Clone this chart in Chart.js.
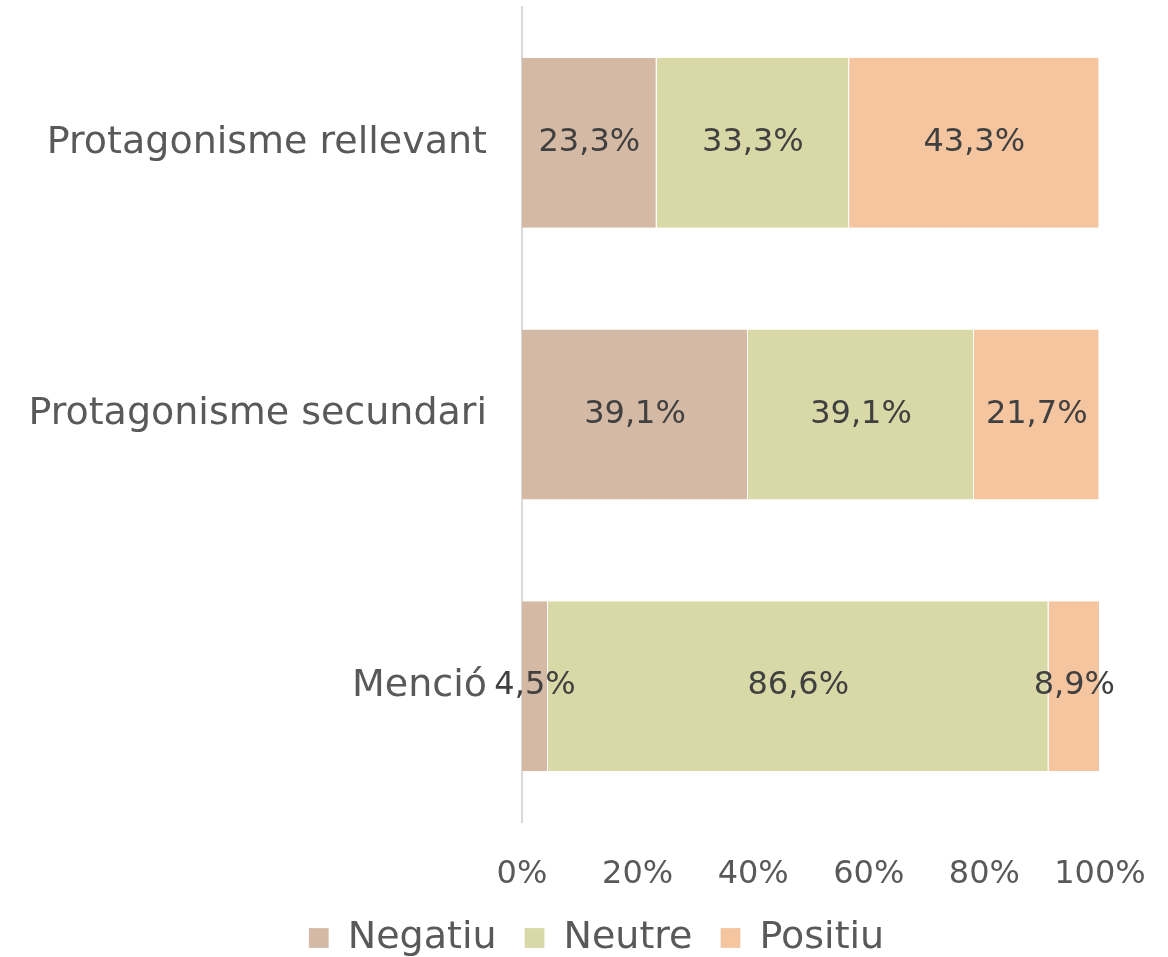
<!DOCTYPE html>
<html lang="ca">
<head>
    <meta charset="UTF-8">
    <title>Protagonisme</title>
    <script src="https://cdn.jsdelivr.net/npm/chart.js"></script>
    <style>
        html, body { margin: 0; padding: 0; background: #fff; }
        #wrap { width: 1168px; height: 957px; }
    </style>
</head>
<body>
    <div id="wrap"><canvas id="chart"></canvas></div>

    <script>
        // Data
        const categories = ['Protagonisme rellevant', 'Protagonisme secundari', 'Menció'];
        const negatiu = [23.3, 39.1, 4.5];
        const neutre = [33.3, 39.1, 86.6];
        const positiu = [43.3, 21.7, 8.9];
        const xTicks = [0, 20, 40, 60, 80, 100];

        const FONT = '"DejaVu Sans", sans-serif';

        // draws the value in the middle of every segment
        const segmentLabels = {
            id: 'segmentLabels',
            afterDatasetsDraw(chart) {
                const ctx = chart.ctx;
                ctx.save();
                ctx.font = '32px ' + FONT;
                ctx.fillStyle = '#404040';
                ctx.textAlign = 'center';
                ctx.textBaseline = 'middle';
                chart.data.datasets.forEach((ds, i) => {
                    chart.getDatasetMeta(i).data.forEach((bar, j) => {
                        const v = ds.data[j];
                        const cx = (bar.x + bar.base) / 2;
                        ctx.fillText(v.toFixed(1).replace('.', ',') + '%', cx, bar.y);
                    });
                });
                ctx.restore();
            }
        };

        const ctx = document.getElementById('chart').getContext('2d');
        new Chart(ctx, {
            type: 'bar',
            data: {
                labels: categories,
                datasets: [
                    { label: 'Negatiu', data: negatiu, backgroundColor: '#D4B9A5' },
                    { label: 'Neutre', data: neutre, backgroundColor: '#D9D8A7' },
                    { label: 'Positiu', data: positiu, backgroundColor: '#F4C59E' }
                ]
            },
            options: {
                indexAxis: 'y',
                responsive: true,
                maintainAspectRatio: false,
                animation: false,
                datasets: {
                    bar: {
                        categoryPercentage: 1,
                        barPercentage: 0.626,
                        borderColor: '#ffffff',
                        borderWidth: { left: 0, right: 1, top: 0, bottom: 0 },
                        borderSkipped: false
                    }
                },
                layout: {
                    padding: { left: 25, right: 0, top: 7, bottom: -10 }
                },
                scales: {
                    x: {
                        stacked: true,
                        min: 0,
                        max: 100,
                        afterBuildTicks: (scale) => {
                            scale.ticks = xTicks.map(v => ({ value: v }));
                        },
                        afterFit: (scale) => {
                            scale.height = 69;
                            scale.paddingLeft = 0;
                            scale.paddingRight = 0;
                        },
                        ticks: {
                            callback: (v) => v + '%',
                            color: '#595959',
                            font: { family: FONT, size: 32 },
                            padding: 33,
                            maxRotation: 0
                        },
                        grid: { display: false, drawTicks: false },
                        border: { display: false }
                    },
                    y: {
                        stacked: true,
                        afterFit: (scale) => {
                            scale.width = 497;
                            scale.paddingTop = 0;
                            scale.paddingBottom = 0;
                        },
                        ticks: {
                            color: '#595959',
                            font: { family: FONT, size: 38 },
                            padding: 35
                        },
                        grid: { display: false, drawTicks: false },
                        border: { color: '#D9D9D9', width: 2 }
                    },
                    // empty axis on the right, keeps the plot off the right edge
                    yRight: {
                        type: 'category',
                        position: 'right',
                        afterFit: (scale) => {
                            scale.width = 68;
                            scale.paddingTop = 0;
                            scale.paddingBottom = 0;
                        },
                        ticks: { display: false },
                        grid: { display: false, drawTicks: false },
                        border: { display: false }
                    }
                },
                plugins: {
                    legend: {
                        position: 'bottom',
                        labels: {
                            boxWidth: 20,
                            boxHeight: 20,
                            padding: 28,
                            color: '#595959',
                            font: { family: FONT, size: 38 }
                        }
                    },
                    tooltip: { enabled: false }
                }
            },
            plugins: [segmentLabels]
        });
    </script>
</body>
</html>
